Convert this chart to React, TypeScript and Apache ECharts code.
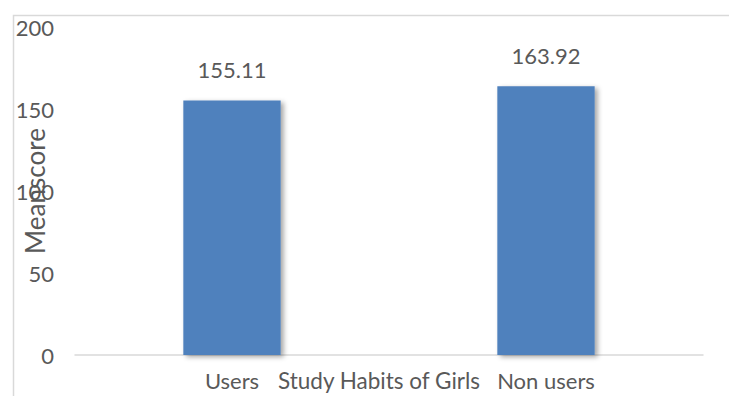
import React, { useEffect, useRef } from "react";
import * as echarts from "echarts";

const categories = ["Users", "Non users"];
const meanScores = [155.11, 163.92];
const yTicks = [0, 50, 100, 150, 200];

const TEXT = "#595959";
const FONT = "Lato, 'Open Sans', sans-serif";

export default function App() {
  const ref = useRef<HTMLDivElement>(null);

  useEffect(() => {
    document.body.style.margin = "0";
    const chart = echarts.init(ref.current!, null, { renderer: "svg" });
    chart.setOption({
      animation: false,
      backgroundColor: "#ffffff",
      graphic: [
        {
          type: "rect",
          left: 11,
          top: 13,
          shape: { width: 760, height: 420 },
          style: { fill: "none", stroke: "#d9d9d9", lineWidth: 1.5 },
          silent: true,
        },
      ],
      grid: {
        left: 75,
        right: 26,
        top: 27,
        bottom: 41,
        containLabel: false,
        outerBoundsMode: "none",
      },
      xAxis: {
        type: "category",
        data: categories,
        name: "Study Habits of Girls",
        nameLocation: "middle",
        nameGap: 14,
        nameMoveOverlap: false,
        nameTextStyle: {
          color: TEXT,
          fontSize: 22.5,
          fontFamily: FONT,
          verticalAlign: "top",
          padding: [0, 20, 0, 0],
        },
        axisLine: { lineStyle: { color: "#d9d9d9", width: 1.5 } },
        axisTick: { show: false },
        axisLabel: { color: TEXT, fontSize: 22, fontFamily: FONT, margin: 14 },
      },
      yAxis: {
        type: "value",
        min: yTicks[0],
        max: yTicks[yTicks.length - 1],
        interval: 50,
        name: "Meanscore",
        nameLocation: "middle",
        nameRotate: 90,
        nameGap: 27,
        nameMoveOverlap: false,
        nameTextStyle: { color: TEXT, fontSize: 26, fontFamily: FONT },
        axisLine: { show: false },
        axisTick: { show: false },
        splitLine: { show: false },
        axisLabel: { color: TEXT, fontSize: 22, fontFamily: FONT, margin: 21 },
      },
      series: [
        {
          type: "bar",
          data: meanScores,
          barWidth: "31%",
          itemStyle: {
            color: "#4f81bd",
            shadowColor: "rgba(0,0,0,0.35)",
            shadowBlur: 5,
            shadowOffsetX: 3,
            shadowOffsetY: 2,
          },
          label: {
            show: true,
            position: "top",
            distance: 20,
            color: TEXT,
            fontSize: 22,
            fontFamily: FONT,
            formatter: (p: any) => p.value.toFixed(2),
          },
        },
      ],
    });
    return () => chart.dispose();
  }, []);

  return <div ref={ref} style={{ width: 729, height: 396 }} />;
}
